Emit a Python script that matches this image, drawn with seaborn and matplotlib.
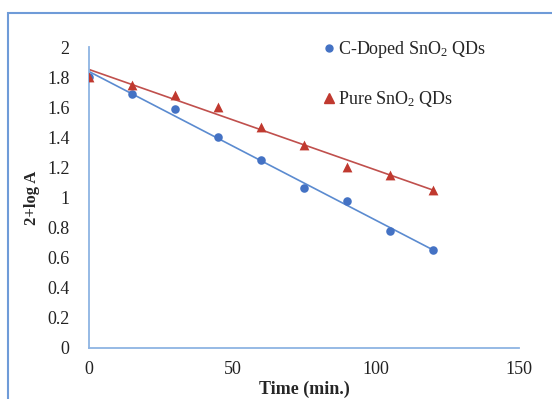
import matplotlib
matplotlib.use("Agg")
import matplotlib.pyplot as plt
import matplotlib.patches as mpatches
from matplotlib.lines import Line2D
import seaborn as sns
import pandas as pd

time_min = [0, 15, 30, 45, 60, 75, 90, 105, 120]
c_doped = [1.80, 1.69, 1.59, 1.40, 1.25, 1.06, 0.98, 0.78, 0.65]
pure = [1.80, 1.75, 1.68, 1.60, 1.47, 1.35, 1.20, 1.15, 1.05]
x_ticks = [0, 50, 100, 150]
y_ticks = [0, 0.2, 0.4, 0.6, 0.8, 1, 1.2, 1.4, 1.6, 1.8, 2]
labels = ["C-Doped SnO$_2$ QDs", "Pure SnO$_2$ QDs"]

blue = "#4472C4"
red = "#C0392F"
blue_line = "#5B8BD0"
red_line = "#C0504D"
axis_col = "#8EB4E3"

sns.set_theme(style="white")
plt.rcParams["font.family"] = ["Liberation Serif", "DejaVu Serif"]
plt.rcParams["mathtext.fontset"] = "custom"
plt.rcParams["mathtext.rm"] = "Liberation Serif"
plt.rcParams["mathtext.it"] = "Liberation Serif"

df_b = pd.DataFrame({"t": time_min, "y": c_doped})
df_r = pd.DataFrame({"t": time_min, "y": pure})

fig = plt.figure(figsize=(5.52, 3.99), dpi=100)
ax = fig.add_axes([89/552, 1-348/399, (519-89)/552, (348-47)/399])

sns.regplot(data=df_b, x="t", y="y", ax=ax, ci=None, truncate=True,
            marker="o", color=blue,
            scatter_kws={"s": 38, "zorder": 3, "linewidths": 0, "alpha": 1},
            line_kws={"lw": 1.2, "zorder": 2, "color": blue_line})
sns.regplot(data=df_r, x="t", y="y", ax=ax, ci=None, truncate=True,
            marker="^", color=red,
            scatter_kws={"s": 50, "zorder": 4, "linewidths": 0, "alpha": 1},
            line_kws={"lw": 1.2, "zorder": 2, "color": red_line})

ax.set_xlim(0, 150)
ax.set_ylim(0, 2)
ax.set_xticks(x_ticks)
ax.set_yticks(y_ticks)
ax.set_xticklabels([str(v) for v in x_ticks])
ax.set_yticklabels([("%g" % v) for v in y_ticks])
ax.tick_params(axis="both", length=0, labelsize=13, colors="#222222")
ax.tick_params(axis="x", pad=9)
ax.tick_params(axis="y", pad=14)
for s in ["top", "right"]:
    ax.spines[s].set_visible(False)
for s in ["left", "bottom"]:
    ax.spines[s].set_color(axis_col)
    ax.spines[s].set_linewidth(1.3)
ax.set_xlabel("Time (min.)", fontsize=13, fontweight="bold", labelpad=2)
ax.set_ylabel("2+log A", fontsize=12, fontweight="bold", labelpad=5)
ax.set_facecolor("none")

handles = [Line2D([], [], marker="o", color=blue, ls="none", markersize=5),
           Line2D([], [], marker="^", color=red, ls="none", markersize=7)]
ax.legend(handles, labels, loc="upper left", bbox_to_anchor=(0.52, 1.05),
          frameon=False, fontsize=13, labelspacing=1.6, handletextpad=0.0,
          handlelength=1.0, borderaxespad=0)

rect = mpatches.Rectangle((8/552, -0.1), 1.2, 0.1 + (1-13/399),
                          transform=fig.transFigure, fill=False,
                          edgecolor="#6F9BD8", lw=1.5, zorder=0)
fig.patches.append(rect)

fig.savefig("out.png", dpi=100)
